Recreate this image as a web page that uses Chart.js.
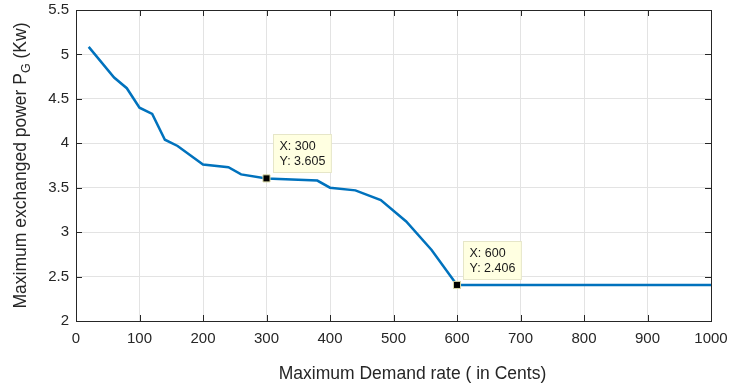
<!DOCTYPE html>
<html>
<head>
<meta charset="utf-8">
<script src="https://cdn.jsdelivr.net/npm/chart.js@4/dist/chart.umd.min.js"></script>
<style>
  html, body { margin: 0; padding: 0; background: #fff; }
  #wrap { width: 730px; height: 390px; }
</style>
</head>
<body>
<div id="wrap"><canvas id="c" width="730" height="390"></canvas></div>
<script>
// demand rate (cents) vs maximum exchanged power (kW)
const rateCents = [20, 60, 80, 100, 120, 140, 160, 200, 240, 260, 300, 380, 400, 440, 480, 520, 560, 600, 1000];
const powerKw   = [5.085, 4.74, 4.62, 4.40, 4.33, 4.04, 3.97, 3.76, 3.73, 3.65, 3.605, 3.58, 3.50, 3.47, 3.36, 3.12, 2.80, 2.406, 2.406];

// data tips
const tipX = [300, 600];
const tipY = [3.605, 2.406];

const xTicks = [0, 100, 200, 300, 400, 500, 600, 700, 800, 900, 1000];
const yTicks = [2, 2.5, 3, 3.5, 4, 4.5, 5, 5.5];

const INK = '#262626';
const FONT = '"Liberation Sans", Arial, Helvetica, sans-serif';

const curve = rateCents.map(function (x, i) { return { x: x, y: powerKw[i] }; });
const tips = tipX.map(function (x, i) { return { x: x, y: tipY[i] }; });

// inward ticks + closed box like a MATLAB axes
const axesBox = {
    id: 'axesBox',
    afterDraw: function (chart) {
        const ctx = chart.ctx;
        const a = chart.chartArea;
        const xs = chart.scales.x, ys = chart.scales.y;
        ctx.save();
        ctx.strokeStyle = INK;
        ctx.lineWidth = 1;
        ctx.beginPath();
        xTicks.forEach(function (v) {
            const px = Math.round(xs.getPixelForValue(v)) + 0.5;
            ctx.moveTo(px, a.bottom); ctx.lineTo(px, a.bottom - 6);
            ctx.moveTo(px, a.top); ctx.lineTo(px, a.top + 6);
        });
        yTicks.forEach(function (v) {
            const py = Math.round(ys.getPixelForValue(v)) + 0.5;
            ctx.moveTo(a.left, py); ctx.lineTo(a.left + 6, py);
            ctx.moveTo(a.right, py); ctx.lineTo(a.right - 6, py);
        });
        ctx.stroke();
        ctx.strokeRect(Math.round(a.left) + 0.5, Math.round(a.top) + 0.5,
            Math.round(a.right - a.left), Math.round(a.bottom - a.top));
        ctx.restore();
    }
};

// axis titles (y one has a subscript G)
const axisTitles = {
    id: 'axisTitles',
    afterDraw: function (chart) {
        const ctx = chart.ctx;
        const a = chart.chartArea;
        const main = '17.5px ' + FONT, sub = '12.5px ' + FONT;
        const p1 = 'Maximum exchanged power P', p2 = 'G', p3 = ' (Kw)';
        ctx.save();
        ctx.fillStyle = INK;
        ctx.textBaseline = 'middle';

        ctx.font = main;
        ctx.textAlign = 'center';
        ctx.fillText('Maximum Demand rate ( in Cents)', (a.left + a.right) / 2 + 19, 374);

        ctx.textAlign = 'left';
        const w1 = ctx.measureText(p1).width, w3 = ctx.measureText(p3).width;
        ctx.font = sub;
        const w2 = ctx.measureText(p2).width;
        const total = w1 + w2 + w3;
        ctx.translate(21, (a.top + a.bottom) / 2);
        ctx.rotate(-Math.PI / 2);
        let x = -total / 2;
        ctx.font = main; ctx.fillText(p1, x, 0); x += w1;
        ctx.font = sub; ctx.fillText(p2, x, 6); x += w2;
        ctx.font = main; ctx.fillText(p3, x, 0);
        ctx.restore();
    }
};

// yellow data tip boxes next to the marked points
const dataTips = {
    id: 'dataTips',
    afterDatasetsDraw: function (chart) {
        const ctx = chart.ctx;
        const xs = chart.scales.x, ys = chart.scales.y;
        ctx.save();
        ctx.font = '12.5px ' + FONT;
        tipX.forEach(function (v, i) {
            const px = xs.getPixelForValue(v), py = ys.getPixelForValue(tipY[i]);
            const l1 = 'X: ' + v, l2 = 'Y: ' + tipY[i].toFixed(3);
            const w = Math.max(ctx.measureText(l1).width, ctx.measureText(l2).width) + 12;
            const bx = Math.round(px + 6) + 0.5, by = Math.round(py - 44) + 0.5;
            ctx.fillStyle = '#ffffe1';
            ctx.fillRect(bx, by, w, 38);
            ctx.strokeStyle = '#e6e6c8';
            ctx.lineWidth = 1;
            ctx.strokeRect(bx, by, w, 38);
            ctx.fillStyle = '#1a1a1a';
            ctx.textBaseline = 'middle';
            ctx.textAlign = 'left';
            ctx.fillText(l1, bx + 6, by + 12);
            ctx.fillText(l2, bx + 6, by + 27);
        });
        ctx.restore();
    }
};

new Chart(document.getElementById('c'), {
    type: 'scatter',
    data: {
        datasets: [{
            data: curve,
            showLine: true,
            borderColor: '#0072BD',
            borderWidth: 2.5,
            pointRadius: 0,
            tension: 0,
            order: 2
        }, {
            data: tips,
            showLine: false,
            pointStyle: 'rect',
            pointRadius: 5,
            backgroundColor: '#000',
            borderColor: '#d9d9a6',
            borderWidth: 1,
            order: 1
        }]
    },
    options: {
        responsive: false,
        animation: false,
        devicePixelRatio: 1,
        layout: { padding: { top: 10, right: 19, left: 0, bottom: 0 } },
        plugins: { legend: { display: false }, tooltip: { enabled: false } },
        scales: {
            x: {
                type: 'linear', min: 0, max: 1000,
                afterBuildTicks: function (s) { s.ticks = xTicks.map(function (v) { return { value: v }; }); },
                afterFit: function (s) { s.height = 69; s.paddingLeft = 0; s.paddingRight = 0; },
                grid: { color: '#e3e3e3', drawTicks: false },
                border: { display: false },
                ticks: { color: INK, font: { family: FONT, size: 15 }, padding: 9, maxRotation: 0, autoSkip: false,
                    callback: function (v) { return String(v); } }
            },
            y: {
                type: 'linear', min: 2, max: 5.5,
                afterBuildTicks: function (s) { s.ticks = yTicks.map(function (v) { return { value: v }; }); },
                afterFit: function (s) { s.width = 76; s.paddingTop = 0; s.paddingBottom = 0; },
                grid: { color: '#e3e3e3', drawTicks: false },
                border: { display: false },
                ticks: { color: INK, font: { family: FONT, size: 15 }, padding: 7, autoSkip: false,
                    callback: function (v) { return String(v); } }
            }
        }
    },
    plugins: [axesBox, axisTitles, dataTips]
});
</script>
</body>
</html>
